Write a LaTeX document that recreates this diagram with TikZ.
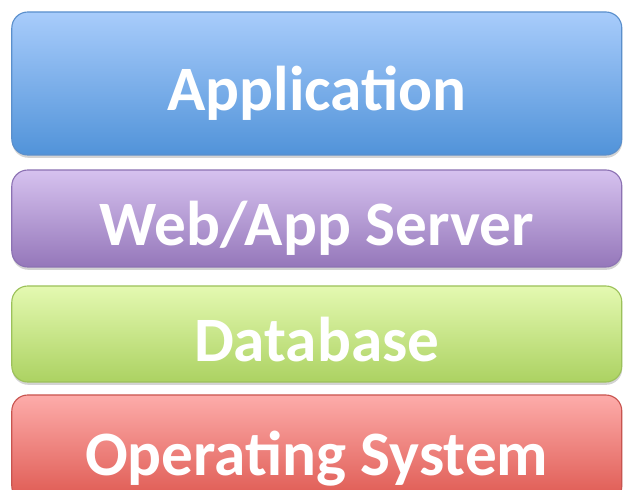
\documentclass[tikz,border=0pt]{standalone}
\usepackage{fontspec}
\setmainfont{Carlito}
\usepackage{tikz}
\usetikzlibrary{shadows}
\definecolor{apptop}{HTML}{A8CCFB}
\definecolor{appbot}{HTML}{5193D9}
\definecolor{appline}{HTML}{5A8FCC}
\definecolor{webtop}{HTML}{D6C2EF}
\definecolor{webbot}{HTML}{9577BA}
\definecolor{webline}{HTML}{8C72B3}
\definecolor{dbtop}{HTML}{E4F9B1}
\definecolor{dbbot}{HTML}{ACD262}
\definecolor{dbline}{HTML}{9CC15A}
\definecolor{ostop}{HTML}{FDACAA}
\definecolor{osbot}{HTML}{DE5850}
\definecolor{osline}{HTML}{C8544F}
\tikzstyle{layer} = [rectangle, rounded corners = 0.4cm, line width = 0.8pt, minimum width = 15.25cm, text = white, font = \fontsize{45}{54}\selectfont\bfseries, text height = 1.36cm, text depth = 0cm, drop shadow = {opacity = 0.35, shadow xshift = 0.3pt, shadow yshift = -2pt}]

\begin{document}
\begin{tikzpicture}
\useasboundingbox (0, 0) rectangle (15.575, -12.25);
\node [layer, draw = appline, top color = apptop, bottom color = appbot, minimum height = 3.575cm] (app) at (7.92, -2.0875) {Application};
\node [layer, draw = webline, top color = webtop, bottom color = webbot, minimum height = 2.425cm] (web) at (7.92, -5.4625) {Web/App Server};
\node [layer, draw = dbline, top color = dbtop, bottom color = dbbot, minimum height = 2.4cm] (db) at (7.92, -8.35) {Database};
\node [layer, draw = osline, top color = ostop, bottom color = osbot, minimum height = 2.675cm] (os) at (7.92, -11.2125) {Operating System};
\end{tikzpicture}
\end{document}
